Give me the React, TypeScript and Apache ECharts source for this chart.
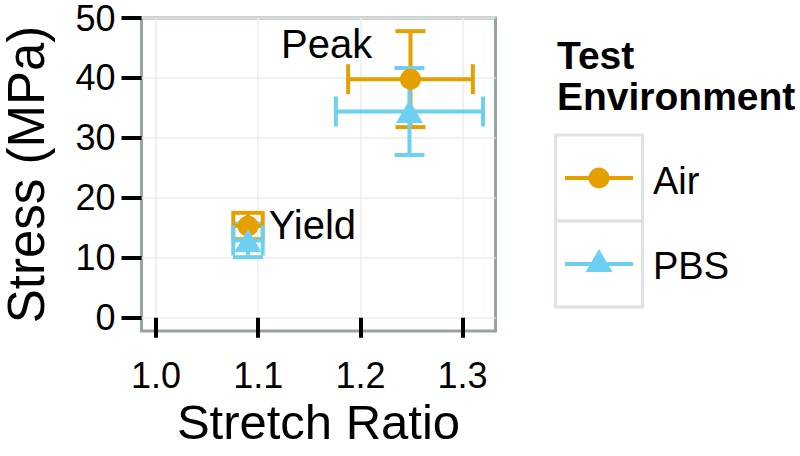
import React, { useEffect, useRef } from "react";
import * as echarts from "echarts";

// ---- data ----
const groups = ["Air", "PBS"];
const colors = ["#E69F00", "#6DD0F3"];
// points: [Yield, Peak]
const airStretch = [1.09, 1.249];
const airStretchErr = [0.0144, 0.061];
const airStress = [15.3, 39.8];
const airStressErr = [2.2, 8.0];
const pbsStretch = [1.09, 1.248];
const pbsStretchErr = [0.0144, 0.072];
const pbsStress = [12.9, 34.4];
const pbsStressErr = [2.8, 7.25];
const annotText = ["Yield", "Peak"];
const annotX = [1.153, 1.167];
const annotY = [15.4, 45.6];
const xTicks = [1.0, 1.1, 1.2, 1.3];
const yTicks = [0, 10, 20, 30, 40, 50];

const FONT = "Liberation Sans";

export default function App() {
  const ref = useRef<HTMLDivElement>(null);
  useEffect(() => {
    if (!ref.current) return;
    const chart = echarts.init(ref.current, null, { renderer: "svg" });
    const sets = [
      { x: airStretch, xe: airStretchErr, y: airStress, ye: airStressErr },
      { x: pbsStretch, xe: pbsStretchErr, y: pbsStress, ye: pbsStressErr },
    ];
    const errData = (i: number) =>
      sets[i].x.map((v, k) => [v, sets[i].y[k], sets[i].xe[k], sets[i].ye[k]]);
    const CAP = 15;
    const LW = 4;
    const vErr = (i: number) => ({
      type: "custom",
      name: groups[i],
      data: errData(i),
      renderItem: (params: any, api: any) => {
        const x = api.value(0), y = api.value(1), ye = api.value(3);
        const lo = api.coord([x, y - ye]);
        const hi = api.coord([x, y + ye]);
        const st = { stroke: colors[i], lineWidth: LW };
        return {
          type: "group",
          children: [
            { type: "line", shape: { x1: lo[0], y1: lo[1], x2: hi[0], y2: hi[1] }, style: st },
            { type: "line", shape: { x1: lo[0] - CAP, y1: lo[1], x2: lo[0] + CAP, y2: lo[1] }, style: st },
            { type: "line", shape: { x1: hi[0] - CAP, y1: hi[1], x2: hi[0] + CAP, y2: hi[1] }, style: st },
          ],
        };
      },
    });
    const hErr = (i: number) => ({
      type: "custom",
      name: groups[i],
      data: errData(i),
      renderItem: (params: any, api: any) => {
        const x = api.value(0), y = api.value(1), xe = api.value(2);
        const lo = api.coord([x - xe, y]);
        const hi = api.coord([x + xe, y]);
        const st = { stroke: colors[i], lineWidth: LW };
        return {
          type: "group",
          children: [
            { type: "line", shape: { x1: lo[0], y1: lo[1], x2: hi[0], y2: hi[1] }, style: st },
            { type: "line", shape: { x1: lo[0], y1: lo[1] - CAP, x2: lo[0], y2: lo[1] + CAP }, style: st },
            { type: "line", shape: { x1: hi[0], y1: hi[1] - CAP, x2: hi[0], y2: hi[1] + CAP }, style: st },
          ],
        };
      },
    });
    const pts = (i: number) => ({
      type: "scatter",
      name: groups[i],
      data: sets[i].x.map((v, k) => [v, sets[i].y[k]]),
      symbol: i === 0 ? "circle" : "triangle",
      symbolSize: i === 0 ? 21 : [27, 23],
      itemStyle: { color: colors[i], opacity: 1 },
    });

    const legendX = 555.5;
    const keyW = 87;
    const keyH = 86;
    const key1Y = 135;
    const key2Y = 221;

    chart.setOption({
      animation: false,
      textStyle: { fontFamily: FONT },
      grid: {
        show: true,
        left: 141.5,
        top: 18,
        right: 304.5,
        bottom: 125,
        borderColor: "#97A4A4",
        borderWidth: 3,
        backgroundColor: "#fff",
        containLabel: false,
      },
      xAxis: {
        type: "value",
        min: 0.9858,
        max: 1.3322,
        name: "Stretch Ratio",
        nameLocation: "middle",
        nameGap: 64,
        nameTextStyle: { fontSize: 49, color: "#000", fontFamily: FONT },
        axisLine: { show: false },
        axisTick: { show: true, length: 20, lineStyle: { color: "#000", width: 4 }, customValues: xTicks },
        axisLabel: {
          fontSize: 36,
          color: "#000",
          margin: 26,
          customValues: xTicks,
          formatter: (v: number) => v.toFixed(1),
        },
        splitLine: { show: true, lineStyle: { color: "#EBEEEE", width: 1.5 } },
      },
      yAxis: {
        type: "value",
        min: -2.21,
        max: 50,
        name: "Stress (MPa)",
        nameLocation: "middle",
        nameGap: 90,
        nameTextStyle: { fontSize: 51, color: "#000", fontFamily: FONT, lineHeight: 50 },
        axisLine: { show: false },
        axisTick: { show: true, length: 20, lineStyle: { color: "#000", width: 4 }, customValues: yTicks },
        axisLabel: { fontSize: 36, lineHeight: 34, color: "#000", margin: 26, customValues: yTicks },
        splitLine: { show: true, lineStyle: { color: "#EBEEEE", width: 1.5 } },
      },
      series: [
        vErr(0),
        vErr(1),
        hErr(0),
        hErr(1),
        pts(0),
        pts(1),
        {
          type: "scatter",
          name: "annotations",
          data: annotX.map((v, k) => ({ value: [v, annotY[k]], label: { formatter: annotText[k] } })),
          symbolSize: 1,
          silent: true,
          itemStyle: { opacity: 0 },
          label: {
            show: true,
            position: "inside",
            fontSize: 40,
            color: "#000",
            opacity: 1,
            fontFamily: FONT,
          },
        },
      ],
      graphic: [
        { type: "text", left: 557, top: 36, style: { text: "Test", fontSize: 39, fontWeight: "bold", fill: "#000", fontFamily: FONT } },
        { type: "text", left: 557, top: 77, style: { text: "Environment", fontSize: 39, fontWeight: "bold", fill: "#000", fontFamily: FONT } },
        { type: "rect", shape: { x: legendX, y: key1Y, width: keyW, height: keyH }, style: { fill: "#fff", stroke: "#DDE2E2", lineWidth: 3 } },
        { type: "rect", shape: { x: legendX, y: key2Y, width: keyW, height: keyH }, style: { fill: "#fff", stroke: "#DDE2E2", lineWidth: 3 } },
        { type: "line", shape: { x1: 565, y1: 178, x2: 633, y2: 178 }, style: { stroke: colors[0], lineWidth: LW } },
        { type: "circle", shape: { cx: 599, cy: 178, r: 10.5 }, style: { fill: colors[0] } },
        { type: "line", shape: { x1: 565, y1: 264, x2: 633, y2: 264 }, style: { stroke: colors[1], lineWidth: LW } },
        { type: "polygon", shape: { points: [[599, 249], [612.5, 272], [585.5, 272]] }, style: { fill: colors[1] } },
        { type: "text", left: 653, top: 162, style: { text: groups[0], fontSize: 38, fill: "#000", fontFamily: FONT } },
        { type: "text", left: 653, top: 247, style: { text: groups[1], fontSize: 38, fill: "#000", fontFamily: FONT } },
      ],
    });
    return () => chart.dispose();
  }, []);
  return <div ref={ref} style={{ width: 800, height: 456, position: "absolute", left: 0, top: 0 }} />;
}
